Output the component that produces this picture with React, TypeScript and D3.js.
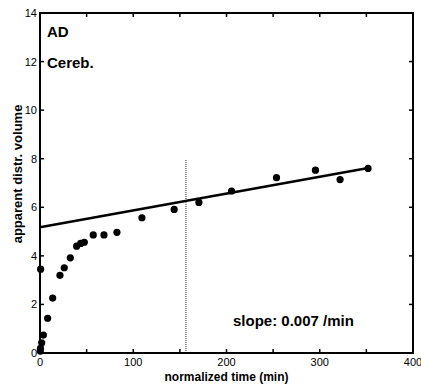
import React from "react";
import * as d3 from "d3";

const times = [0.3, 0.5, 1.8, 3.6, 0.7, 8.2, 13.6, 21.4, 26, 32.5, 39.3, 43.6, 47.5, 57.1, 68.6, 82.5, 109.3, 143.9, 170.4, 205.4, 253.6, 295.4, 321.8, 351.8];
const volumes = [0.08, 0.19, 0.42, 0.74, 3.45, 1.43, 2.26, 3.2, 3.51, 3.92, 4.4, 4.51, 4.56, 4.86, 4.86, 4.97, 5.57, 5.91, 6.2, 6.67, 7.22, 7.53, 7.14, 7.6];
const fitStart = [0, 5.18];
const fitEnd = [352, 7.62];
const markerTime = 156.5;
const markerTop = 7.95;
const xTicks = [0, 50, 100, 150, 200, 250, 300, 350, 400];
const xLabels = [0, 100, 200, 300, 400];
const yTicks = [0, 2, 4, 6, 8, 10, 12, 14];

const W = 421, H = 387;
const M = { left: 40, right: 413, top: 13, bottom: 353 };

export default function App() {
  const x = d3.scaleLinear().domain([0, 400]).range([M.left, M.right]);
  const y = d3.scaleLinear().domain([0, 14]).range([M.bottom, M.top]);
  const line = d3.line<number[]>().x((d) => x(d[0])).y((d) => y(d[1]));
  const font = "'Liberation Sans', Arial, sans-serif";
  const tl = 4;
  return (
    <svg width={W} height={H} style={{ position: "absolute", left: 0, top: 0, background: "#fff" }} fontFamily={font}>
      <rect x={0} y={0} width={W} height={H} fill="#fff" />
      {/* dotted marker */}
      <line x1={x(markerTime)} x2={x(markerTime)} y1={y(markerTop)} y2={y(0)} stroke="#888" strokeWidth={1.8} strokeDasharray="1,1" />
      {/* fit line */}
      <path d={line([fitStart, fitEnd]) || ""} stroke="#000" strokeWidth={2.5} fill="none" />
      {/* points */}
      {times.map((t, i) => (
        <circle key={i} cx={x(t)} cy={y(volumes[i])} r={3.6} fill="#000" />
      ))}
      {/* ticks */}
      {xTicks.map((t) => (
        <g key={"x" + t}>
          <line x1={x(t)} x2={x(t)} y1={M.bottom} y2={M.bottom - tl} stroke="#000" strokeWidth={1.5} />
          <line x1={x(t)} x2={x(t)} y1={M.top} y2={M.top + tl} stroke="#000" strokeWidth={1.5} />
        </g>
      ))}
      {yTicks.map((t) => (
        <g key={"y" + t}>
          <line x1={M.left} x2={M.left + tl} y1={y(t)} y2={y(t)} stroke="#000" strokeWidth={1.5} />
          <line x1={M.right} x2={M.right - tl} y1={y(t)} y2={y(t)} stroke="#000" strokeWidth={1.5} />
          <text x={M.left - 3} y={y(t) + 4} textAnchor="end" fontSize={11}>{t}</text>
        </g>
      ))}
      {xLabels.map((t) => (
        <text key={"xl" + t} x={x(t)} y={366} textAnchor="middle" fontSize={11}>{t}</text>
      ))}
      {/* frame */}
      <rect x={M.left} y={M.top} width={M.right - M.left} height={M.bottom - M.top} fill="none" stroke="#000" strokeWidth={2} />
      <text x={(M.left + M.right) / 2} y={381} textAnchor="middle" fontSize={12} fontWeight="bold">normalized time (min)</text>
      <text transform={`translate(22,${174}) rotate(-90)`} textAnchor="middle" fontSize={13} fontWeight="bold">apparent distr. volume</text>
      <text x={47} y={37} fontSize={15} fontWeight="bold">AD</text>
      <text x={47} y={68} fontSize={15} fontWeight="bold">Cereb.</text>
      <text x={233} y={326} fontSize={15} fontWeight="bold">slope: 0.007 /min</text>
    </svg>
  );
}
